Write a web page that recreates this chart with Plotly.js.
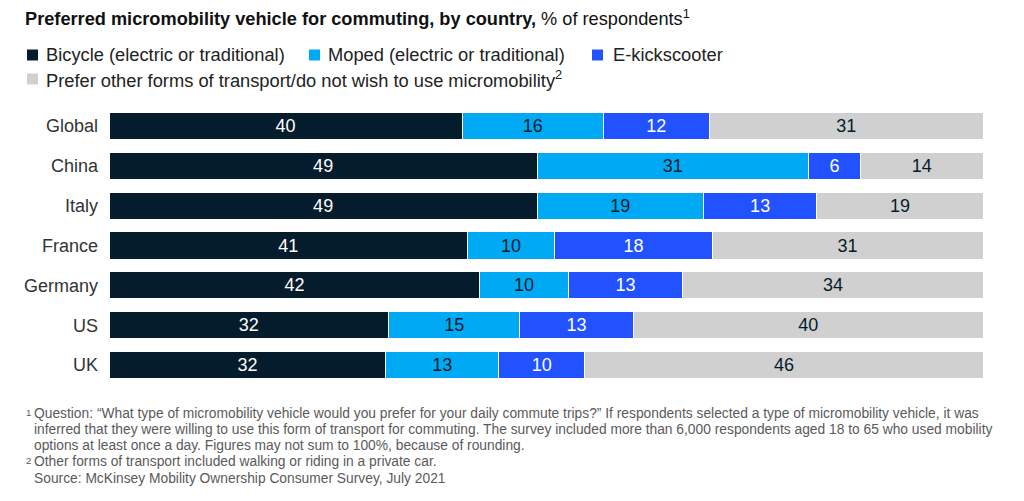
<!DOCTYPE html>
<html>
<head>
<meta charset="utf-8">
<script src="https://cdn.plot.ly/plotly-3.0.1.min.js"></script>
<style>html,body{margin:0;padding:0;background:#fff;}#chart{width:1024px;height:501px;}</style>
</head>
<body>
<div id="chart"></div>
<script>
const countries = ["Global", "China", "Italy", "France", "Germany", "US", "UK"];
const bicycle = [40, 49, 49, 41, 42, 32, 32];
const moped = [16, 31, 19, 10, 10, 15, 13];
const kickscooter = [12, 6, 13, 18, 13, 13, 10];
const other = [31, 14, 19, 31, 34, 40, 46];
const seriesNames = [
  "Bicycle (electric or traditional)",
  "Moped (electric or traditional)",
  "E-kickscooter",
  "Prefer other forms of transport/do not wish to use micromobility<sup>2</sup>"
];
const colors = ["#051c2c", "#00a9f4", "#2251ff", "#d0d0d0"];
const textColors = ["#ffffff", "#051c2c", "#ffffff", "#051c2c"];
const seriesValues = [bicycle, moped, kickscooter, other];

const W = 1024, H = 501;
const L = 109, R = 41, T = 106, B = 116;
const pw = W - L - R, ph = H - T - B;
const px = v => (v - L) / pw;
const py = v => (H - B - v) / ph;
const FONT = "'Liberation Sans', Arial, sans-serif";

const traces = seriesValues.map((vals, i) => ({
  type: "bar",
  orientation: "h",
  y: countries,
  x: vals,
  name: seriesNames[i],
  text: vals.map(String),
  textposition: "inside",
  insidetextanchor: "middle",
  constraintext: "none",
  textfont: {family: FONT, size: 18, color: textColors[i]},
  marker: {color: colors[i], line: {color: "#ffffff", width: 1}},
  hoverinfo: "skip",
  showlegend: false
}));

const shapes = [];
const annotations = [];
const legendItems = [
  {sq: 27, tx: 44, cy: 55},
  {sq: 309, tx: 326, cy: 55},
  {sq: 592, tx: 611, cy: 55},
  {sq: 27, tx: 44, cy: 79}
];
legendItems.forEach((it, i) => {
  shapes.push({
    type: "rect", xref: "paper", yref: "paper",
    x0: px(it.sq), x1: px(it.sq + 11), y0: py(it.cy + 5.5), y1: py(it.cy - 5.5),
    fillcolor: colors[i], line: {width: 0}
  });
  annotations.push({
    xref: "paper", yref: "paper", x: px(it.tx), y: py(it.cy),
    xanchor: "left", yanchor: "middle", showarrow: false,
    text: seriesNames[i],
    font: {family: FONT, size: 18.3, color: "#222222"}
  });
});

const footnotes = [
  {x: 24, y: 412, t: "<sup>1</sup>"},
  {x: 32, y: 413, t: "Question: “What type of micromobility vehicle would you prefer for your daily commute trips?” If respondents selected a type of micromobility vehicle, it was"},
  {x: 32, y: 429, t: "inferred that they were willing to use this form of transport for commuting. The survey included more than 6,000 respondents aged 18 to 65 who used mobility"},
  {x: 32, y: 445, t: "options at least once a day. Figures may not sum to 100%, because of rounding."},
  {x: 24, y: 460, t: "<sup>2</sup>"},
  {x: 32, y: 461, t: "Other forms of transport included walking or riding in a private car."},
  {x: 32, y: 478, t: "Source: McKinsey Mobility Ownership Consumer Survey, July 2021"}
];
footnotes.forEach(f => {
  annotations.push({
    xref: "paper", yref: "paper", x: px(f.x), y: py(f.y),
    xanchor: "left", yanchor: "middle", showarrow: false,
    text: f.t,
    font: {family: FONT, size: 13.8, color: "#5a5a5a"}
  });
});

const layout = {
  width: W, height: H,
  margin: {l: L, r: R, t: T, b: B},
  paper_bgcolor: "#ffffff",
  plot_bgcolor: "#ffffff",
  barmode: "stack",
  barnorm: "percent",
  bargap: 0.32,
  title: {
    text: "<b>Preferred micromobility vehicle for commuting, by country,</b> % of respondents<sup>1</sup>",
    xref: "container", yref: "container",
    x: 25 / W, xanchor: "left",
    y: 1 - 19 / H, yanchor: "middle",
    font: {family: FONT, size: 18.2, color: "#111111"}
  },
  xaxis: {
    range: [0, 100], visible: false, fixedrange: true
  },
  yaxis: {
    autorange: "reversed",
    showgrid: false, zeroline: false, showline: false, ticks: "",
    ticklabelstandoff: 10,
    tickfont: {family: FONT, size: 18, color: "#333333"},
    fixedrange: true
  },
  shapes: shapes,
  annotations: annotations,
  showlegend: false
};

Plotly.newPlot("chart", traces, layout, {displayModeBar: false, staticPlot: true});
</script>
</body>
</html>
